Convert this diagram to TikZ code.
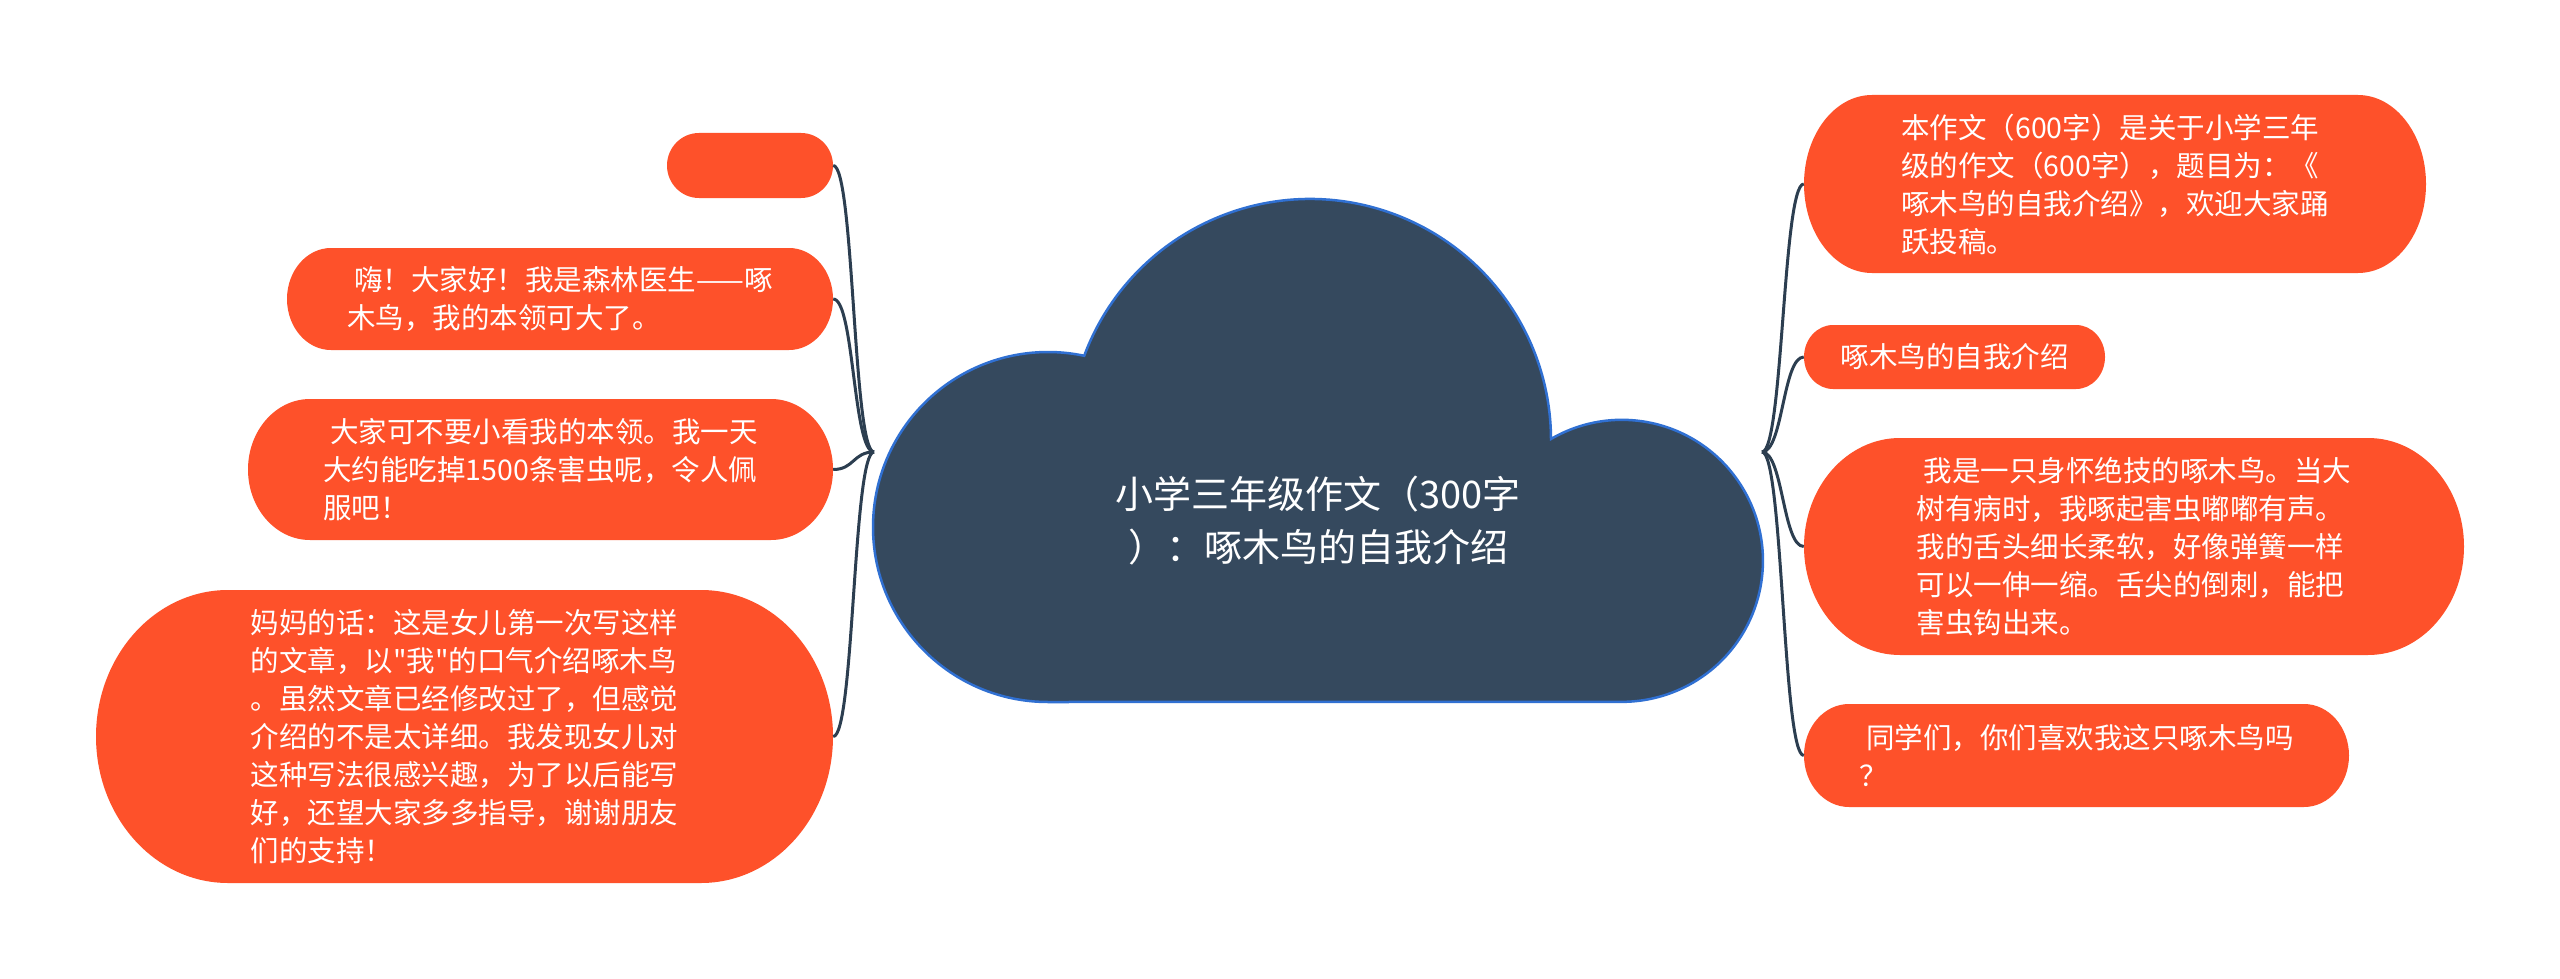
\documentclass[tikz,border=0pt]{standalone}
\usepackage{fontspec}
\setmainfont{Noto Sans CJK SC}[Ligatures=TeXOff]
\definecolor{leafc}{RGB}{254,81,42}
\definecolor{wirec}{RGB}{44,62,80}
\definecolor{cloudfill}{RGB}{53,73,94}
\definecolor{cloudline}{RGB}{48,112,210}
\tikzset{
  leaftext/.style={text=white, align=left, inner sep=0pt, font=\fontsize{28.5}{38}\selectfont},
  roottext/.style={text=white, align=center, inner sep=0pt, font=\fontsize{38}{53}\selectfont},
  wire/.style={draw=wirec, line width=3pt},
  pillfill/.style={fill=leafc},
}
% name, cx, cy, w, h, rx, text
\newcommand\leafnode[7]{%
  \fill[pillfill] ({#2-#4/2+#6},{#3-#5/2}) -- ({#2+#4/2-#6},{#3-#5/2})
    arc[start angle=-90,end angle=90,x radius=#6,y radius=#5/2]
    -- ({#2-#4/2+#6},{#3+#5/2})
    arc[start angle=90,end angle=270,x radius=#6,y radius=#5/2] -- cycle;
  \node[leaftext, minimum width=#4pt, minimum height=#5pt] (#1) at (#2,#3) {#7};
}
\begin{document}
\begin{tikzpicture}[x=1pt,y=-1pt]
\useasboundingbox (0,0) rectangle (2560,979);
\fill[white] (0,0) rectangle (2560,979);

% cloud
\path[fill=cloudfill, draw=cloudline, line width=2.5pt]
  (1048,702) arc[start angle=90, end angle=281.94, radius=175]
  arc[start angle=200.45, end angle=359.76, radius=241]
  arc[start angle=239.8, end angle=450, radius=141] -- cycle;
\node[roottext] (root) at (1318,521) {小学三年级作文（300字\\）：啄木鸟的自我介绍};

% left leaves
\leafnode{n1}{750}{165.5}{166}{65}{32}{}
\leafnode{n2}{560}{299}{546}{102}{44}{\hspace*{7pt}嗨！大家好！我是森林医生——啄\\木鸟，我的本领可大了。}
\leafnode{n3}{540.5}{469.5}{585}{141}{62}{\hspace*{7pt}大家可不要小看我的本领。我一天\\大约能吃掉1500条害虫呢，令人佩\\服吧！}
\leafnode{n4}{464.5}{736.5}{737}{293}{132}{妈妈的话：这是女儿第一次写这样\\的文章，以"我"的口气介绍啄木鸟\\。虽然文章已经修改过了，但感觉\\介绍的不是太详细。我发现女儿对\\这种写法很感兴趣，为了以后能写\\好，还望大家多多指导，谢谢朋友\\们的支持！}

% right leaves
\leafnode{n5}{2115}{184}{622}{178}{68}{本作文（600字）是关于小学三年\\级的作文（600字），题目为：《\\啄木鸟的自我介绍》，欢迎大家踊\\跃投稿。}
\leafnode{n6}{1954.5}{357}{301}{64}{29}{啄木鸟的自我介绍}
\leafnode{n7}{2134}{546.5}{660}{217}{96}{\hspace*{7pt}我是一只身怀绝技的啄木鸟。当大\\树有病时，我啄起害虫嘟嘟有声。\\我的舌头细长柔软，好像弹簧一样\\可以一伸一缩。舌尖的倒刺，能把\\害虫钩出来。}
\leafnode{n8}{2076.5}{755.5}{545}{103}{45}{\hspace*{7pt}同学们，你们喜欢我这只啄木鸟吗\\？}

% hubs
\coordinate (lhub) at (874,452);
\coordinate (rhub) at (1762,452);

% connectors
\foreach \n in {n1,n2,n3,n4}
  \draw[wire] (lhub) .. controls +(-21,0) and +(21,0) .. (\n.east);
\foreach \n in {n5,n6,n7,n8}
  \draw[wire] (rhub) .. controls +(21,0) and +(-21,0) .. (\n.west);
\end{tikzpicture}
\end{document}
